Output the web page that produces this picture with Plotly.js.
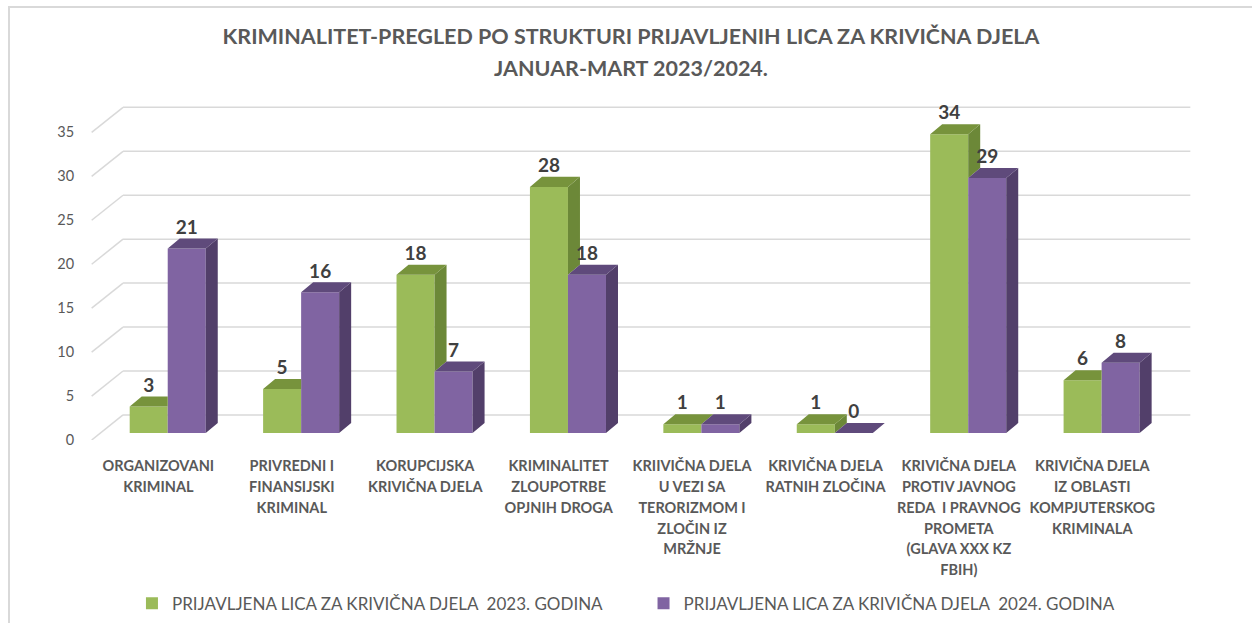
<!DOCTYPE html>
<html>
<head>
<meta charset="utf-8">
<script src="https://cdn.plot.ly/plotly-3.0.1.min.js"></script>
<style>
  html, body { margin: 0; padding: 0; background: #ffffff; }
  #chart { width: 1252px; height: 623px; position: relative; }
  #frame { position: absolute; left: 8px; top: 6px; width: 1260px; height: 640px;
           border: 2px solid #D9D9D9; pointer-events: none; box-sizing: border-box; }
</style>
</head>
<body>
<div id="chart"></div>
<div id="frame"></div>
<script>
// ---------------- data ----------------
const categoryLines = [
  ["ORGANIZOVANI", "KRIMINAL"],
  ["PRIVREDNI I", "FINANSIJSKI", "KRIMINAL"],
  ["KORUPCIJSKA", "KRIVIČNA DJELA"],
  ["KRIMINALITET", "ZLOUPOTRBE", "OPJNIH DROGA"],
  ["KRIIVIČNA DJELA", "U VEZI SA", "TERORIZMOM I", "ZLOČIN IZ", "MRŽNJE"],
  ["KRIVIČNA DJELA", "RATNIH ZLOČINA"],
  ["KRIVIČNA DJELA", "PROTIV JAVNOG", "REDA  I PRAVNOG", "PROMETA", "(GLAVA XXX KZ", "FBIH)"],
  ["KRIVIČNA DJELA", "IZ OBLASTI", "KOMPJUTERSKOG", "KRIMINALA"]
];
const values2023 = [3, 5, 18, 28, 1, 1, 34, 6];
const values2024 = [21, 16, 7, 18, 1, 0, 29, 8];
const seriesNames = [
  "PRIJAVLJENA LICA ZA KRIVIČNA DJELA  2023. GODINA",
  "PRIJAVLJENA LICA ZA KRIVIČNA DJELA  2024. GODINA"
];
const yTickValues = [0, 5, 10, 15, 20, 25, 30, 35];
const titleLines = [
  "KRIMINALITET-PREGLED PO STRUKTURI PRIJAVLJENIH LICA ZA KRIVIČNA DJELA",
  "JANUAR-MART 2023/2024."
];

// ---------------- style / geometry ----------------
const FONT = 'Lato, "Open Sans", "Liberation Sans", sans-serif';
const GREEN = { front: '#9BBB59', side: '#6C8838', top: '#77933C' };
const PURPLE = { front: '#8064A2', side: '#523F6A', top: '#5F4A7B' };
const BW = 0.285;           // bar width (x units)
const DX = 0.09, DY = 1.14; // bar depth offset
const FX = -0.07, FY = -0.8; // front floor edge offset
const WX = 0.165, WY = 2.05; // back wall offset
const N = values2023.length;
const idx = values2023.map((_, i) => i);

function styled(lines, size) {
  return lines.map(l => '<span style="font-size:' + size + 'px">' + l + '</span>').join('<br>');
}

// side/top faces
const gSide = { x: [], y: [] }, gTop = { x: [], y: [] };
const pSide = { x: [], y: [] }, pTop = { x: [], y: [] };
function push(o, xs, ys) { o.x.push(...xs, null); o.y.push(...ys, null); }
idx.forEach(i => {
  const g = values2023[i], p = values2024[i];
  if (g > p) push(gSide, [i, i + DX, i + DX, i], [p, p + DY, g + DY, g]);
  const xl = i - BW;
  if (g < p) push(gTop, [xl, xl + DX, i, i], [g, g + DY, g + DY, g]);
  else push(gTop, [xl, xl + DX, i + DX, i], [g, g + DY, g + DY, g]);
  push(pSide, [i + BW, i + BW + DX, i + BW + DX, i + BW], [0, DY, p + DY, p]);
  push(pTop, [i, i + DX, i + BW + DX, i + BW], [p, p + DY, p + DY, p]);
});
function face(o, color) {
  return { type: 'scatter', mode: 'lines', x: o.x, y: o.y, fill: 'toself', fillcolor: color,
           line: { width: 0, color: color }, hoverinfo: 'skip', showlegend: false };
}

const traces = [
  { type: 'bar', name: seriesNames[0], x: idx, y: values2023, legend: 'legend',
    marker: { color: GREEN.front, line: { width: 0 } } },
  { type: 'bar', name: seriesNames[1], x: idx, y: values2024, legend: 'legend2',
    marker: { color: PURPLE.front, line: { width: 0 } } },
  face(gSide, GREEN.side), face(gTop, GREEN.top),
  face(pSide, PURPLE.side), face(pTop, PURPLE.top),
  { type: 'scatter', mode: 'text', x: idx.map(i => i - BW / 2), y: values2023.map(v => v + DY),
    text: values2023.map(String), textposition: 'top center', cliponaxis: false, showlegend: false, hoverinfo: 'skip',
    textfont: { family: FONT, size: 19, color: '#404040', weight: 'bold' } },
  { type: 'scatter', mode: 'text', x: idx.map(i => i + BW / 2), y: values2024.map(v => v + DY),
    text: values2024.map(String), textposition: 'top center', cliponaxis: false, showlegend: false, hoverinfo: 'skip',
    textfont: { family: FONT, size: 19, color: '#404040', weight: 'bold' } }
];

// grid (side wall diagonals + back wall lines)
const shapes = [];
yTickValues.forEach(v => {
  const line = { color: '#D9D9D9', width: 1.5 };
  shapes.push({ type: 'line', layer: 'below', xref: 'x', yref: 'y',
    x0: -0.5 + FX, y0: v + FY, x1: -0.5 + WX, y1: v + WY, line });
  shapes.push({ type: 'line', layer: 'below', xref: 'x', yref: 'y',
    x0: -0.5 + WX, y0: v + WY, x1: N - 0.5 + WX, y1: v + WY, line });
});

const legendBase = {
  orientation: 'h', xref: 'container', xanchor: 'left',
  yref: 'container', y: 0.031, yanchor: 'middle',
  font: { family: FONT, size: 17, color: '#595959' },
  itemclick: false, itemdoubleclick: false
};

const layout = {
  width: 1252, height: 623,
  margin: { l: 81, r: 57, t: 99, b: 183 },
  paper_bgcolor: '#ffffff', plot_bgcolor: '#ffffff',
  font: { family: FONT, color: '#595959' },
  title: {
    text: styled(titleLines, 21.5),
    font: { family: FONT, size: 25, color: '#595959', weight: 'bold' },
    x: 0.504, xref: 'container', xanchor: 'center',
    y: 0.93, yref: 'container', yanchor: 'top', pad: { t: 0, b: 0 }
  },
  barmode: 'group', bargap: 0.43, bargroupgap: 0,
  xaxis: {
    range: [-0.65, N - 0.3],
    tickmode: 'array',
    tickvals: idx.map(i => i + FX),
    ticktext: categoryLines.map(l => styled(l, 14.5)),
    tickangle: 0, showgrid: false, zeroline: false, showline: false,
    ticks: 'outside', ticklen: 11, tickcolor: 'rgba(0,0,0,0)',
    tickfont: { family: FONT, size: 16, color: '#595959', weight: 'bold' },
    automargin: false, fixedrange: true
  },
  yaxis: {
    range: [FY, 38],
    tickmode: 'array',
    tickvals: yTickValues.map(v => v + FY),
    ticktext: yTickValues.map(String),
    showgrid: false, zeroline: false, showline: false,
    ticks: 'outside', ticklen: 3, tickcolor: 'rgba(0,0,0,0)',
    tickfont: { family: FONT, size: 14.5, color: '#595959' },
    automargin: false, fixedrange: true
  },
  shapes: shapes,
  showlegend: true,
  legend: Object.assign({}, legendBase, { x: 0.1054 }),
  legend2: Object.assign({}, legendBase, { x: 0.514 }),
  hovermode: false
};

Plotly.newPlot('chart', traces, layout, { displayModeBar: false, staticPlot: true });
</script>
</body>
</html>
